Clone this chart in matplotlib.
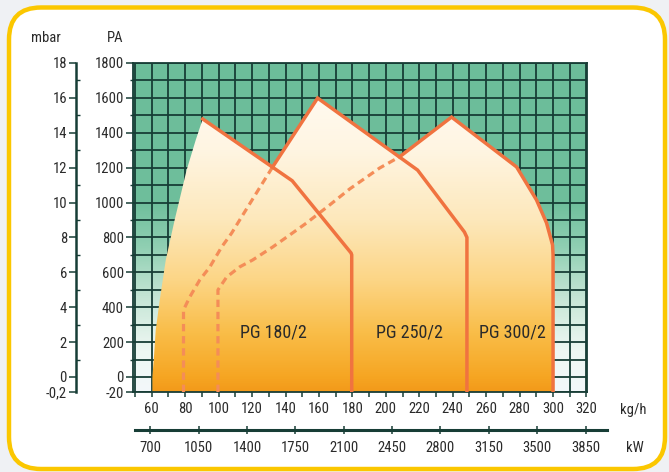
import numpy as np
import matplotlib
matplotlib.use("Agg")
import matplotlib.pyplot as plt
from matplotlib.patches import Polygon, FancyBboxPatch
from matplotlib.colors import LinearSegmentedColormap, Normalize
from matplotlib import font_manager

# ---------------- data ----------------
kg_ticks = list(range(60, 321, 20))
kw_ticks = [700, 1050, 1400, 1750, 2100, 2450, 2800, 3150, 3500, 3850]
pa_ticks = list(range(0, 1801, 200))
mbar_ticks = list(range(0, 19, 2))

burner_names = ["PG 180/2", "PG 250/2", "PG 300/2"]

pg180_kg = [60.4, 61.2, 62.4, 64.8, 68.4, 73.7, 80.9, 86.3, 90.5, 144.0, 179.2, 179.6]
pg180_pa = [0, 97, 269, 441, 671, 900, 1187, 1358, 1479, 1125, 711, 700]

pg250_kg = [79.0, 79.0, 82.7, 88.7, 94.7, 101.8, 107.8, 112.6, 126.3, 132.3, 159.2, 219.0, 247.0, 248.5]
pg250_pa = [0, 384, 458, 556, 630, 745, 825, 900, 1112, 1204, 1599, 1186, 831, 800]

pg300_kg = [99.6, 99.6, 104.8, 112.6, 120.4, 132.3, 142.5, 152.6, 166.4, 178.4, 196.3, 208.2,
            239.3, 278.2, 290.1, 296.1, 299.7, 300.0]
pg300_pa = [0, 499, 573, 631, 671, 745, 814, 883, 986, 1078, 1198, 1262,
            1490, 1204, 1015, 883, 757, 700]

# ---------------- style ----------------
def has_font(name):
    try:
        font_manager.findfont(font_manager.FontProperties(family=name), fallback_to_default=False)
        return True
    except Exception:
        return False

FONT = "Liberation Sans"
for cand in ["Liberation Sans Narrow", "Roboto Condensed", "Open Sans Condensed"]:
    if has_font(cand):
        FONT = cand
        break
plt.rcParams["font.family"] = [FONT, "DejaVu Sans"]

TXT = "#2a2a2a"
GRID = "#173d36"
SOLID = "#f07340"
DASH = "#f48d58"
Y_MIN = -86
X_MIN, X_MAX = 48.8, 320.3

# outline style: (first index of drawn outline, last index of dashed part)
outline = [(8, None), (0, 9), (0, 11)]
label_pos = [(133, 255), (214, 255), (275.5, 255)]

W, H = 669, 472
fig = plt.figure(figsize=(W / 100, H / 100), dpi=100, facecolor="#eff1f4")

frame = FancyBboxPatch((0.09, 0.03), 6.56, 4.615,
                       boxstyle="round,pad=0,rounding_size=0.32",
                       transform=fig.dpi_scale_trans, facecolor="white",
                       edgecolor="#fbc700", linewidth=3.2, zorder=0)
fig.add_artist(frame)

ax = fig.add_axes([133 / W, 80 / H, 454 / W, 329 / H])
ax.set_facecolor("white")
ax.set_xlim(X_MIN, X_MAX)
ax.set_ylim(Y_MIN, 1800)

def frac(v):
    return (v - Y_MIN) / (1800 - Y_MIN)

# background (green cells fading to white at the bottom)
bg_cmap = LinearSegmentedColormap.from_list("bg", [
    (0.0, "#f3f8fa"),
    (frac(150), "#eef7f3"),
    (frac(450), "#c6e6d6"),
    (frac(750), "#8fcfb2"),
    (frac(1000), "#6fbf9c"),
    (1.0, "#6cbd9a"),
])
grad = np.linspace(Y_MIN, 1800, 400).reshape(-1, 1)
ax.imshow(grad, extent=[X_MIN, X_MAX, Y_MIN, 1800], origin="lower", aspect="auto",
          cmap=bg_cmap, norm=Normalize(Y_MIN, 1800), zorder=0.2, interpolation="bilinear")

# grid via ticks
ax.set_xticks(kg_ticks)
ax.set_xticks(list(range(50, 321, 10)), minor=True)
ax.set_xticklabels([str(v) for v in kg_ticks])
ax.set_yticks([Y_MIN] + pa_ticks)
ax.set_yticklabels(["-20"] + [str(v) for v in pa_ticks])
ax.set_yticks(list(range(100, 1800, 200)), minor=True)
ax.grid(True, which="both", color=GRID, linewidth=1.3)
ax.set_axisbelow(True)
for s in ax.spines.values():
    s.set_color(GRID)
    s.set_linewidth(1.3)
ax.tick_params(axis="x", which="both", direction="out", length=3.5, width=1.1,
               color=GRID, labelsize=10.5, labelcolor=TXT, pad=3.5)
ax.tick_params(axis="y", which="major", direction="out", length=5, width=1.1,
               color=GRID, labelsize=10.5, labelcolor=TXT, pad=1.5)
ax.tick_params(axis="y", which="minor", direction="out", length=2.5, width=1.0, color=GRID)

# gradient fill
cmap = LinearSegmentedColormap.from_list("flame", [
    (0.00, "#f39a1a"),
    (frac(0), "#f6a623"),
    (frac(250), "#f9bd48"),
    (frac(550), "#fcd585"),
    (frac(900), "#fde8bb"),
    (frac(1300), "#fff5e2"),
    (1.00, "#fffdf8"),
])

burners = [(pg180_kg, pg180_pa), (pg250_kg, pg250_pa), (pg300_kg, pg300_pa)]
for (kg, pa), (start, dash_end) in zip(burners, outline):
    xs = [kg[0]] + list(kg) + [kg[-1]]
    ys = [Y_MIN] + list(pa) + [Y_MIN]
    poly = Polygon(np.column_stack([xs, ys]), closed=True, facecolor="none",
                   edgecolor="none", transform=ax.transData)
    ax.add_patch(poly)
    im = ax.imshow(grad, extent=[X_MIN, X_MAX, Y_MIN, 1800], origin="lower",
                   aspect="auto", cmap=cmap, norm=Normalize(Y_MIN, 1800), zorder=2,
                   interpolation="bilinear")
    im.set_clip_path(poly)

for (kg, pa), (start, dash_end) in zip(burners, outline):
    xs = [kg[0]] + list(kg) + [kg[-1]]
    ys = [Y_MIN] + list(pa) + [Y_MIN]
    if dash_end is not None:
        ax.plot(xs[start:dash_end + 2], ys[start:dash_end + 2], color=DASH, lw=2.3,
                dashes=(2.3, 1.5), zorder=3, solid_capstyle="butt")
        s0 = dash_end + 1
    else:
        s0 = start + 1
    ax.plot(xs[s0:], ys[s0:], color=SOLID, lw=2.5, zorder=4, solid_joinstyle="miter")

ax.set_xlim(X_MIN, X_MAX)
ax.set_ylim(Y_MIN, 1800)

for name, (x, y) in zip(burner_names, label_pos):
    ax.text(x, y, name, ha="center", va="center", fontsize=13, color=TXT, zorder=5)

# mbar axis
sec = ax.secondary_yaxis((76 - 133) / 454, functions=(lambda p: p / 100, lambda m: m * 100))
sec.set_yticks([Y_MIN / 100] + mbar_ticks)
sec.set_yticklabels(["-0,2"] + [str(v) for v in mbar_ticks])
sec.set_yticks(list(range(1, 18, 2)), minor=True)
sec.spines["left"].set_linewidth(1.8)
sec.spines["left"].set_color(GRID)
sec.tick_params(axis="y", which="major", direction="out", length=5, width=1.1,
                color=GRID, labelsize=10.5, labelcolor=TXT, pad=1.5)
sec.tick_params(axis="y", which="minor", direction="in", length=3, width=1.0, color=GRID)

# kW axis
kax = fig.add_axes([135 / W, (H - 430) / H, 472 / W, 0.0001])
kax.set_xlim(590, 4005)
kax.set_xticks(kw_ticks)
kax.set_xticklabels([str(v) for v in kw_ticks])
kax.set_yticks([])
kax.patch.set_visible(False)
for k in ["top", "left", "right"]:
    kax.spines[k].set_visible(False)
kax.spines["bottom"].set_linewidth(2.2)
kax.spines["bottom"].set_color(GRID)
kax.tick_params(axis="x", direction="inout", length=6, width=1.1, color=GRID,
                labelsize=10.5, labelcolor=TXT, pad=5)

fig.text(633 / W, 1 - 410 / H, "kg/h", ha="center", va="center", fontsize=10.5, color=TXT)
fig.text(635 / W, 1 - 448 / H, "kW", ha="center", va="center", fontsize=10.5, color=TXT)
fig.text(46 / W, 1 - 38 / H, "mbar", ha="center", va="center", fontsize=10.5, color=TXT)
fig.text(115 / W, 1 - 38 / H, "PA", ha="center", va="center", fontsize=10.5, color=TXT)

fig.savefig("out.png", dpi=100, facecolor=fig.get_facecolor())
